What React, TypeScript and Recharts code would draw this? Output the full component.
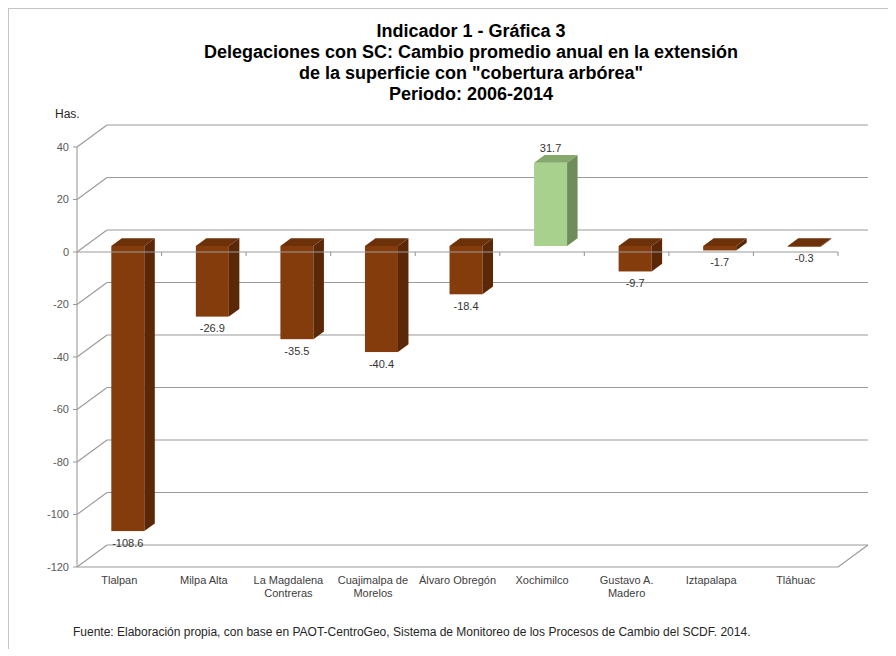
import React from 'react'
import { BarChart, Bar, XAxis, YAxis, CartesianGrid, ReferenceLine } from 'recharts'

const categories = [
  'Tlalpan',
  'Milpa Alta',
  'La Magdalena Contreras',
  'Cuajimalpa de Morelos',
  'Álvaro Obregón',
  'Xochimilco',
  'Gustavo A. Madero',
  'Iztapalapa',
  'Tláhuac',
]
const values = [-108.6, -26.9, -35.5, -40.4, -18.4, 31.7, -9.7, -1.7, -0.3]
const yTicks = [40, 20, 0, -20, -40, -60, -80, -100, -120]

const titleLines = [
  'Indicador 1 - Gráfica 3',
  'Delegaciones con SC: Cambio promedio anual en la extensión',
  'de la superficie con "cobertura arbórea"',
  'Periodo: 2006-2014',
]
const source =
  'Fuente: Elaboración propia, con base en PAOT-CentroGeo, Sistema de Monitoreo de los Procesos de Cambio del SCDF. 2014.'

const FONT = '"Liberation Sans", Arial, sans-serif'
const GRID = '#9a9a9a'
// wall depth (back plane offset) and bar depth
const WALL_DX = 30
const WALL_DY = -22
const BAR_OX = 8.3
const BAR_OY = -6
const BAR_DX = 10.5
const BAR_DY = -7.7

const brown = { front: '#843c0c', side: '#5a2707', top: '#6d310a' }
const green = { front: '#a9d18e', side: '#6f8c5b', top: '#86a86c' }

type Row = { name: string; value: number }
const data: Row[] = categories.map((name, i) => ({ name, value: values[i] }))

// greedy word wrap, measured with canvas
let ctx: CanvasRenderingContext2D | null = null
function wrap(label: string, maxWidth: number): string[] {
  if (!ctx) {
    ctx = document.createElement('canvas').getContext('2d')
    if (ctx) ctx.font = `11px ${FONT}`
  }
  const measure = (s: string) => (ctx ? ctx.measureText(s).width : s.length * 5.5)
  const lines: string[] = []
  let cur = ''
  for (const word of label.split(' ')) {
    const next = cur ? `${cur} ${word}` : word
    if (cur && measure(next) > maxWidth) {
      lines.push(cur)
      cur = word
    } else {
      cur = next
    }
  }
  if (cur) lines.push(cur)
  return lines
}

function gridLine(props: any) {
  const { x1, y1, x2, y2, index } = props
  return (
    <g key={`g-${index}`} stroke={GRID} strokeWidth={1.1} fill="none">
      <line x1={x1} y1={y1} x2={x1 + WALL_DX} y2={y1 + WALL_DY} />
      <line x1={x1 + WALL_DX} y1={y1 + WALL_DY} x2={x2 + WALL_DX} y2={y2 + WALL_DY} />
    </g>
  )
}

function zeroAxis(props: any) {
  const { x1, y1, x2 } = props
  const n = categories.length
  const step = (x2 - x1) / n
  return (
    <g stroke={GRID} strokeWidth={1.1}>
      <line x1={x1} y1={y1} x2={x2} y2={y1} />
      {categories.map((_, k) => (
        <line key={k} x1={x1 + (k + 1) * step} y1={y1} x2={x1 + (k + 1) * step} y2={y1 + 4} />
      ))}
    </g>
  )
}

function floorEdge(props: any) {
  const { x1, y1, x2 } = props
  return (
    <g stroke={GRID} strokeWidth={1.1} fill="none">
      <line x1={x1} y1={y1} x2={x2} y2={y1} />
      <line x1={x2} y1={y1} x2={x2 + WALL_DX} y2={y1 + WALL_DY} />
    </g>
  )
}

function Column3D(props: any) {
  const { x, y, width, height, value } = props
  const v = Array.isArray(value) ? value[1] : value
  const c = v >= 0 ? green : brown
  const fx = x + BAR_OX
  const top = Math.min(y, y + height) + BAR_OY
  const bot = Math.max(y, y + height) + BAR_OY
  const w = width
  const side = `${fx + w},${top} ${fx + w + BAR_DX},${top + BAR_DY} ${fx + w + BAR_DX},${bot + BAR_DY} ${fx + w},${bot}`
  const lid = `${fx},${top} ${fx + BAR_DX},${top + BAR_DY} ${fx + w + BAR_DX},${top + BAR_DY} ${fx + w},${top}`
  const ly = v >= 0 ? top + BAR_DY - 7 : bot + 11.5
  return (
    <g>
      <rect x={fx} y={top} width={w} height={Math.max(bot - top, 0.5)} fill={c.front} />
      <polygon points={side} fill={c.side} />
      <polygon points={lid} fill={c.top} />
      <text
        x={fx + w / 2}
        y={ly}
        textAnchor="middle"
        dominantBaseline="central"
        fontSize={11}
        fontFamily={FONT}
        fill="#333"
      >
        {v.toFixed(1)}
      </text>
    </g>
  )
}

function CategoryTick(props: any) {
  const { x, y, payload } = props
  const lines = wrap(String(payload.value), 84)
  return (
    <text x={x} y={y + 17} textAnchor="middle" fontSize={11} fontFamily={FONT} fill="#404040">
      {lines.map((l, i) => (
        <tspan key={i} x={x} dy={i === 0 ? 0 : 13}>
          {l}
        </tspan>
      ))}
    </text>
  )
}

export default function App() {
  return (
    <div
      style={{
        position: 'relative',
        width: 880,
        height: 640,
        borderTop: '1px solid #c4c4c4',
        borderLeft: '1px solid #c4c4c4',
        fontFamily: FONT,
        background: '#fff',
      }}
    >
      <div
        style={{
          position: 'absolute',
          left: 162,
          top: 12,
          width: 600,
          textAlign: 'center',
          fontWeight: 'bold',
          fontSize: 18,
          lineHeight: '21px',
          color: '#000',
        }}
      >
        {titleLines.map((t) => (
          <div key={t}>{t}</div>
        ))}
      </div>
      <div style={{ position: 'absolute', left: 46, top: 98, fontSize: 12, color: '#262626' }}>Has.</div>

      <BarChart
        width={879}
        height={639}
        data={data}
        margin={{ top: 138, right: 50, bottom: 41, left: 28 }}
        barSize={33}
      >
        <CartesianGrid vertical={false} horizontal={gridLine} />
        <XAxis
          dataKey="name"
          interval={0}
          axisLine={false}
          tickLine={false}
          tickSize={0}
          tickMargin={0}
          height={40}
          tick={CategoryTick}
        />
        <YAxis
          domain={[-120, 40]}
          ticks={yTicks}
          width={40}
          tickSize={4}
          tickMargin={4}
          axisLine={{ stroke: GRID, strokeWidth: 1.1 }}
          tickLine={{ stroke: GRID }}
          tick={{ fontSize: 11, fill: '#595959', fontFamily: FONT }}
        />
        <ReferenceLine y={-120} shape={floorEdge} />
        <Bar dataKey="value" shape={Column3D} isAnimationActive={false} />
        <ReferenceLine y={0} shape={zeroAxis} />
      </BarChart>

      <div
        style={{
          position: 'absolute',
          left: 64,
          top: 616,
          fontSize: 12,
          color: '#262626',
          whiteSpace: 'nowrap',
        }}
      >
        {source}
      </div>
    </div>
  )
}
